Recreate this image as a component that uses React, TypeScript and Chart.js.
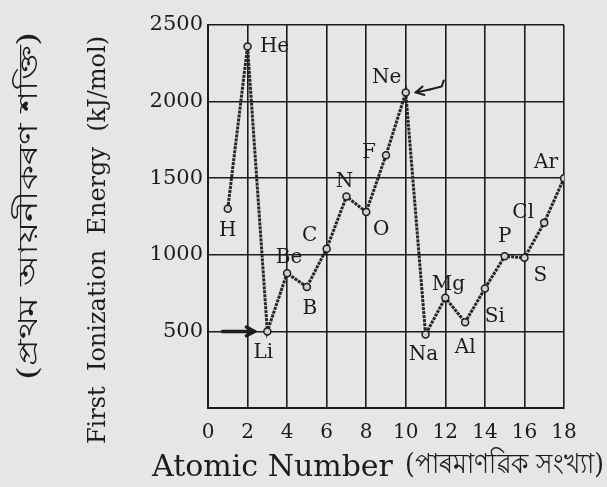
import React, { useEffect, useRef } from "react";
import { Chart, registerables } from "chart.js";

Chart.register(...registerables);

// ---- data ----
const atomicNumbers = [1, 2, 3, 4, 5, 6, 7, 8, 9, 10, 11, 12, 13, 14, 15, 16, 17, 18];
const elementSymbols = ["H", "He", "Li", "Be", "B", "C", "N", "O", "F", "Ne", "Na", "Mg", "Al", "Si", "P", "S", "Cl", "Ar"];
const ionizationEnergies = [1300, 2360, 500, 880, 790, 1040, 1380, 1280, 1650, 2060, 480, 720, 560, 780, 990, 980, 1210, 1500];
const xTickValues = [0, 2, 4, 6, 8, 10, 12, 14, 16, 18];
const yTickValues = [500, 1000, 1500, 2000, 2500];
const yTitleEnglish = "First  Ionization  Energy  (kJ/mol)";
const yTitleLocal = "(প্ৰথম আয়নীকৰণ শক্তি)";
const xTitleEnglish = "Atomic Number";
const xTitleLocal = "(পাৰমাণৱিক সংখ্যা)";

// label placement relative to each point (pixels)
const labelOffsets: Record<string, [number, number]> = {
  H: [0, 22], He: [27, 0], Li: [-4, 21], Be: [2, -15], B: [3, 22], C: [-17, -13],
  N: [-2, -15], O: [15, 18], F: [-17, -2], Ne: [-19, -15], Na: [-2, 20], Mg: [3, -13],
  Al: [0, 26], Si: [10, 28], P: [0, -20], S: [16, 18], Cl: [-21, -10], Ar: [-18, -15],
};

const INK = "#1c1c1c";
const PAPER = "#e6e6e4";
const SERIF = "'DejaVu Serif', 'Liberation Serif', serif";

function drawArrow(ctx: CanvasRenderingContext2D, x1: number, y1: number, x2: number, y2: number) {
  const ang = Math.atan2(y2 - y1, x2 - x1);
  ctx.beginPath();
  ctx.moveTo(x1, y1);
  ctx.lineTo(x2, y2);
  ctx.stroke();
  ctx.beginPath();
  ctx.moveTo(x2 - 9 * Math.cos(ang - 0.5), y2 - 9 * Math.sin(ang - 0.5));
  ctx.lineTo(x2, y2);
  ctx.lineTo(x2 - 9 * Math.cos(ang + 0.5), y2 - 9 * Math.sin(ang + 0.5));
  ctx.stroke();
}

// draw text fitted to a target width (horizontal scaling), starting at x (left aligned)
function fitText(ctx: CanvasRenderingContext2D, text: string, x: number, y: number, targetWidth: number) {
  const w = ctx.measureText(text).width;
  const sx = w > 0 ? targetWidth / w : 1;
  ctx.save();
  ctx.translate(x, y);
  ctx.scale(sx, 1);
  ctx.textAlign = "left";
  ctx.fillText(text, 0, 0);
  ctx.restore();
}

const decorPlugin = {
  id: "decor",
  beforeDraw(chart: any) {
    const ctx = chart.ctx;
    ctx.save();
    ctx.fillStyle = PAPER;
    ctx.fillRect(0, 0, chart.width, chart.height);
    ctx.restore();
  },
  afterDatasetsDraw(chart: any) {
    const ctx: CanvasRenderingContext2D = chart.ctx;
    const xs = chart.scales.x;
    const ys = chart.scales.y;
    ctx.save();
    ctx.fillStyle = INK;
    ctx.font = `20px ${SERIF}`;
    ctx.textAlign = "center";
    ctx.textBaseline = "middle";
    elementSymbols.forEach((sym, i) => {
      const px = xs.getPixelForValue(atomicNumbers[i]);
      const py = ys.getPixelForValue(ionizationEnergies[i]);
      const [dx, dy] = labelOffsets[sym] || [0, -15];
      ctx.fillText(sym, px + dx, py + dy);
    });
    // arrows
    ctx.strokeStyle = INK;
    ctx.lineWidth = 3.5;
    ctx.lineCap = "round";
    const liX = xs.getPixelForValue(atomicNumbers[2]);
    const liY = ys.getPixelForValue(ionizationEnergies[2]);
    drawArrow(ctx, liX - 45, liY, liX - 13, liY);
    const neX = xs.getPixelForValue(atomicNumbers[9]);
    const neY = ys.getPixelForValue(ionizationEnergies[9]);
    ctx.lineWidth = 2;
    ctx.beginPath();
    ctx.moveTo(neX + 38, neY - 12);
    ctx.lineTo(neX + 36, neY - 6);
    ctx.lineTo(neX + 24, neY - 3);
    ctx.stroke();
    drawArrow(ctx, neX + 24, neY - 3, neX + 10, neY);

    // axis titles
    ctx.fillStyle = INK;
    ctx.textBaseline = "middle";
    ctx.font = `30px ${SERIF}`;
    ctx.textAlign = "left";
    ctx.fillText(xTitleEnglish, 152, 468);
    ctx.font = `28px ${SERIF}`;
    fitText(ctx, xTitleLocal, 405, 466, 199);

    ctx.save();
    ctx.translate(99, 240);
    ctx.rotate(-Math.PI / 2);
    ctx.font = `24px ${SERIF}`;
    ctx.textAlign = "center";
    ctx.fillText(yTitleEnglish, 0, 0);
    ctx.restore();

    ctx.save();
    ctx.translate(30, 206);
    ctx.rotate(-Math.PI / 2);
    ctx.font = `27px ${SERIF}`;
    fitText(ctx, yTitleLocal, -174, 0, 348);
    ctx.restore();
    ctx.restore();
  },
};

export default function App() {
  const canvasRef = useRef<HTMLCanvasElement | null>(null);

  useEffect(() => {
    if (!canvasRef.current) return;
    const chart = new Chart(canvasRef.current, {
      type: "line",
      data: {
        datasets: [
          {
            data: atomicNumbers.map((x, i) => ({ x, y: ionizationEnergies[i] })),
            borderColor: "#262626",
            borderWidth: 3,
            borderDash: [3, 1],
            pointRadius: 3.5,
            pointBorderWidth: 1.5,
            pointBorderColor: INK,
            pointBackgroundColor: "#cfcfcf",
            tension: 0,
            fill: false,
          },
        ],
      },
      plugins: [decorPlugin],
      options: {
        responsive: false,
        animation: false,
        events: [],
        layout: { padding: { top: 25, right: 43, left: 0, bottom: 0 } },
        plugins: {
          legend: { display: false },
          tooltip: { enabled: false },
          title: { display: false },
        },
        scales: {
          x: {
            type: "linear",
            min: 0,
            max: 18,
            afterBuildTicks: (scale: any) => {
              scale.ticks = xTickValues.map((value) => ({ value }));
            },
            afterFit: (scale: any) => {
              scale.height = 79;
            },
            ticks: {
              padding: 13,
              color: INK,
              font: { family: SERIF, size: 20 },
              maxRotation: 0,
              autoSkip: false,
              callback: (v: any) => String(v),
            },
            grid: { color: INK, lineWidth: 1.6, drawTicks: false },
            border: { color: INK, width: 2 },
          },
          y: {
            type: "linear",
            min: 0,
            max: 2500,
            afterBuildTicks: (scale: any) => {
              scale.ticks = yTickValues.map((value) => ({ value }));
            },
            afterFit: (scale: any) => {
              scale.width = 208;
            },
            ticks: {
              padding: 5,
              color: INK,
              font: { family: SERIF, size: 21 },
              autoSkip: false,
              callback: (v: any) => String(v),
            },
            grid: { color: INK, lineWidth: 1.6, drawTicks: false },
            border: { color: INK, width: 2 },
          },
        },
      },
    });
    return () => chart.destroy();
  }, []);

  return (
    <div style={{ position: "fixed", left: 0, top: 0, width: 607, height: 487, background: PAPER }}>
      <canvas ref={canvasRef} width={607} height={487} style={{ display: "block" }} />
    </div>
  );
}
